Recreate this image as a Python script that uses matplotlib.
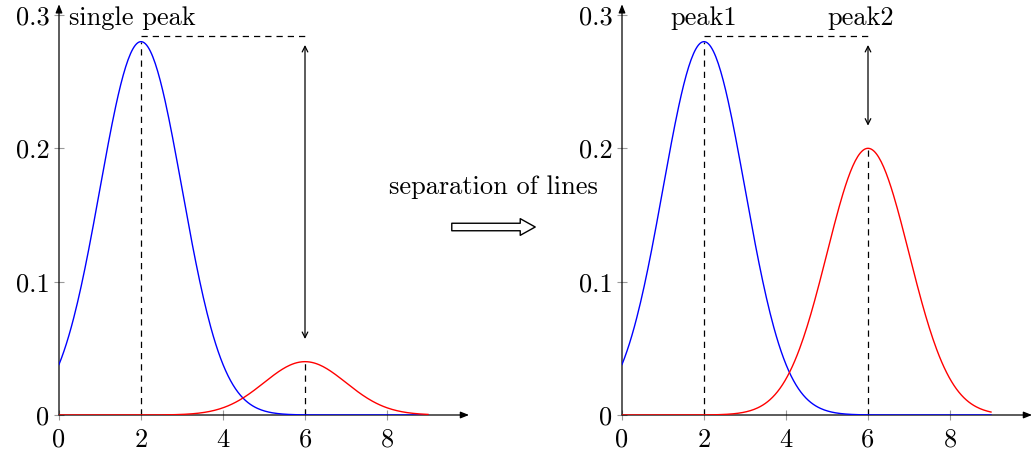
import numpy as np
import matplotlib.pyplot as plt
from matplotlib.patches import FancyArrowPatch

plt.rcParams["font.family"] = ["cmr10", "DejaVu Serif"]
plt.rcParams["axes.formatter.use_mathtext"] = True

# peak centres, widths and heights
blue_center = 2.0
red_center = 6.0
sigma = 1.0
blue_height = 0.28
red_height_before = 0.04
red_height_after = 0.2
ref_level = 0.2845

x_ticks = [0, 2, 4, 6, 8]
y_ticks = [0, 0.1, 0.2, 0.3]
y_tick_labels = ["0", "0.1", "0.2", "0.3"]

x = np.linspace(0, 9, 300)

FS = 19


def bump(x, height, center):
    return height * np.exp(-(x - center) ** 2 / (2 * sigma ** 2))


fig = plt.figure(figsize=(10.32, 4.55), dpi=100)
W, H = 1032, 455
YMAX = 0.308
XMAX = 10.0


def make_axes(left_px):
    ax = fig.add_axes([left_px / W, 40 / H, 410 / W, 410.7 / H])
    ax.set_xlim(0, XMAX)
    ax.set_ylim(0, YMAX)
    for s in ax.spines.values():
        s.set_visible(False)
    ax.set_xticks(x_ticks)
    ax.set_xticklabels([str(t) for t in x_ticks])
    ax.set_yticks(y_ticks)
    ax.set_yticklabels(y_tick_labels)
    ax.tick_params(direction="inout", length=7, width=0.8, color="#9a9a9a",
                   labelsize=FS)
    ax.tick_params(axis="x", pad=6)
    ax.tick_params(axis="y", pad=3.5)
    # axis lines with arrow tips
    ax.annotate("", xy=(XMAX, 0), xytext=(0, 0), annotation_clip=False,
                arrowprops=dict(arrowstyle="-|>,head_length=0.5,head_width=0.2",
                                lw=0.9, color="black", shrinkA=0, shrinkB=0))
    ax.annotate("", xy=(0, YMAX), xytext=(0, 0), annotation_clip=False,
                arrowprops=dict(arrowstyle="-|>,head_length=0.5,head_width=0.2",
                                lw=0.9, color="black", shrinkA=0, shrinkB=0))
    return ax


def draw_panel(ax, red_height):
    ax.plot(x, bump(x, blue_height, blue_center), color="blue", lw=1, zorder=3)
    ax.plot(x, bump(x, red_height, red_center), color="red", lw=1, zorder=3)
    dash = (0, (5, 4))
    ax.plot([blue_center, blue_center], [0, blue_height], color="black", lw=0.9,
            linestyle=dash, zorder=2)
    ax.plot([red_center, red_center], [0, red_height], color="black", lw=0.9,
            linestyle=dash, zorder=2)
    ax.plot([blue_center, red_center], [ref_level, ref_level], color="black",
            lw=0.9, linestyle=dash, zorder=2)
    ax.annotate("", xy=(red_center, red_height + 0.017), xytext=(red_center, 0.2775),
                arrowprops=dict(arrowstyle="<->,head_length=0.4,head_width=0.2",
                                lw=0.9, color="black", shrinkA=0, shrinkB=0))


ax1 = make_axes(59)
draw_panel(ax1, red_height_before)
ax1.text(0.25, 0.298, "single peak", fontsize=FS, ha="left", va="center")

ax2 = make_axes(622)
draw_panel(ax2, red_height_after)
ax2.text(blue_center, 0.298, "peak1", fontsize=FS, ha="center", va="center")
ax2.text(red_center - 0.17, 0.298, "peak2", fontsize=FS, ha="center", va="center")

fig.text(493 / W, 1 - 187 / H, "separation of lines", fontsize=FS,
         ha="center", va="center")
fig.patches.append(FancyArrowPatch(
    (449 / W, 1 - 227 / H), (538 / W, 1 - 227 / H), transform=fig.transFigure,
    arrowstyle="simple,head_length=0.9,head_width=1.0,tail_width=0.45",
    mutation_scale=12, facecolor="white", edgecolor="black", lw=1))

fig.savefig("out.png", dpi=100)
